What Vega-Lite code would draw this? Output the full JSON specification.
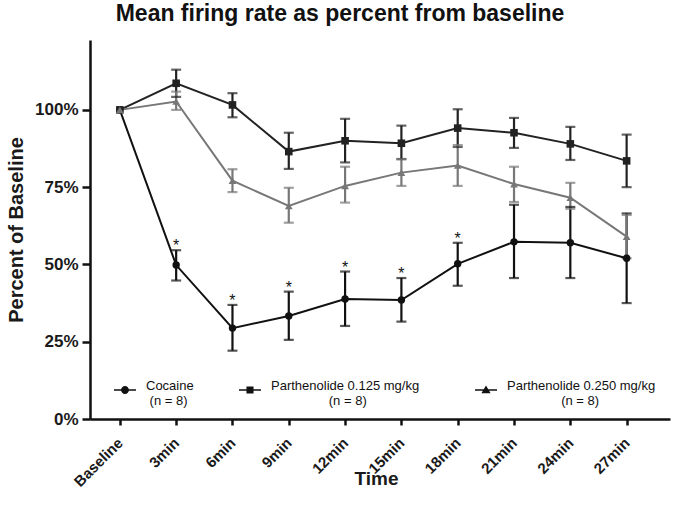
{
  "$schema": "https://vega.github.io/schema/vega-lite/v6.json",
  "width": 580,
  "height": 379,
  "autosize": "none",
  "padding": {"left": 90, "top": 40, "right": 6, "bottom": 99},
  "background": "white",
  "config": {
    "view": {"stroke": null},
    "font": "Liberation Sans",
    "axis": {"grid": false, "domainColor": "#111", "tickColor": "#111", "domainWidth": 2.5, "tickWidth": 2.5, "labelColor": "#1a1a1a", "titleColor": "#1a1a1a", "labelFont": "Liberation Sans", "titleFont": "Liberation Sans", "labelFontWeight": "bold", "titleFontWeight": "bold"}
  },
  "title": {"text": "Mean firing rate as percent from baseline", "font": "Liberation Sans", "fontSize": 23, "fontWeight": "bold", "color": "#111", "anchor": "middle", "dx": -40, "offset": 14},
  "data": {"values": [
    {"series": "Cocaine", "t": 0, "value": 100, "lo": null, "hi": null, "sig": ""},
    {"series": "Cocaine", "t": 1, "value": 49.8, "lo": 44.8, "hi": 54.6, "sig": "*"},
    {"series": "Cocaine", "t": 2, "value": 29.4, "lo": 22.1, "hi": 36.9, "sig": "*"},
    {"series": "Cocaine", "t": 3, "value": 33.3, "lo": 25.6, "hi": 41.2, "sig": "*"},
    {"series": "Cocaine", "t": 4, "value": 38.8, "lo": 30.1, "hi": 47.7, "sig": "*"},
    {"series": "Cocaine", "t": 5, "value": 38.5, "lo": 31.5, "hi": 45.6, "sig": "*"},
    {"series": "Cocaine", "t": 6, "value": 50.2, "lo": 43.1, "hi": 57.0, "sig": "*"},
    {"series": "Cocaine", "t": 7, "value": 57.3, "lo": 45.6, "hi": 69.3, "sig": ""},
    {"series": "Cocaine", "t": 8, "value": 57.0, "lo": 45.6, "hi": 68.6, "sig": ""},
    {"series": "Cocaine", "t": 9, "value": 52.0, "lo": 37.5, "hi": 66.5, "sig": ""},
    {"series": "Parthenolide 0.125 mg/kg", "t": 0, "value": 100, "lo": null, "hi": null, "sig": ""},
    {"series": "Parthenolide 0.125 mg/kg", "t": 1, "value": 108.6, "lo": 104.2, "hi": 113.0, "sig": ""},
    {"series": "Parthenolide 0.125 mg/kg", "t": 2, "value": 101.6, "lo": 97.6, "hi": 105.4, "sig": ""},
    {"series": "Parthenolide 0.125 mg/kg", "t": 3, "value": 86.5, "lo": 80.9, "hi": 92.6, "sig": ""},
    {"series": "Parthenolide 0.125 mg/kg", "t": 4, "value": 90.0, "lo": 83.0, "hi": 97.1, "sig": ""},
    {"series": "Parthenolide 0.125 mg/kg", "t": 5, "value": 89.2, "lo": 84.1, "hi": 94.9, "sig": ""},
    {"series": "Parthenolide 0.125 mg/kg", "t": 6, "value": 94.1, "lo": 88.0, "hi": 100.2, "sig": ""},
    {"series": "Parthenolide 0.125 mg/kg", "t": 7, "value": 92.6, "lo": 87.7, "hi": 97.4, "sig": ""},
    {"series": "Parthenolide 0.125 mg/kg", "t": 8, "value": 89.0, "lo": 83.8, "hi": 94.5, "sig": ""},
    {"series": "Parthenolide 0.125 mg/kg", "t": 9, "value": 83.5, "lo": 75.0, "hi": 92.0, "sig": ""},
    {"series": "Parthenolide 0.250 mg/kg", "t": 0, "value": 100, "lo": null, "hi": null, "sig": ""},
    {"series": "Parthenolide 0.250 mg/kg", "t": 1, "value": 102.7, "lo": 100.0, "hi": 105.9, "sig": ""},
    {"series": "Parthenolide 0.250 mg/kg", "t": 2, "value": 77.1, "lo": 73.4, "hi": 80.8, "sig": ""},
    {"series": "Parthenolide 0.250 mg/kg", "t": 3, "value": 68.9, "lo": 63.5, "hi": 74.8, "sig": ""},
    {"series": "Parthenolide 0.250 mg/kg", "t": 4, "value": 75.4, "lo": 70.0, "hi": 81.6, "sig": ""},
    {"series": "Parthenolide 0.250 mg/kg", "t": 5, "value": 79.7, "lo": 75.4, "hi": 84.0, "sig": ""},
    {"series": "Parthenolide 0.250 mg/kg", "t": 6, "value": 82.0, "lo": 75.4, "hi": 88.6, "sig": ""},
    {"series": "Parthenolide 0.250 mg/kg", "t": 7, "value": 76.0, "lo": 70.2, "hi": 81.6, "sig": ""},
    {"series": "Parthenolide 0.250 mg/kg", "t": 8, "value": 71.6, "lo": 68.0, "hi": 76.4, "sig": ""},
    {"series": "Parthenolide 0.250 mg/kg", "t": 9, "value": 59.0, "lo": 52.0, "hi": 66.0, "sig": ""}
  ]},
  "encoding": {
    "x": {"field": "t", "type": "quantitative", "scale": {"domain": [-0.53, 9.77], "nice": false, "zero": false},
      "axis": {"values": [0,1,2,3,4,5,6,7,8,9], "title": "Time", "titleFontSize": 19, "titleY": 65, "titleX": 286, "titleBaseline": "alphabetic", "labelFontSize": 15, "labelAngle": -45, "labelAlign": "right", "labelBaseline": "middle", "labelPadding": 15, "tickSize": 6,
        "labelExpr": "['Baseline','3min','6min','9min','12min','15min','18min','21min','24min','27min'][datum.value]"}},
    "y": {"field": "value", "type": "quantitative", "scale": {"domain": [0, 122.6], "nice": false},
      "axis": {"values": [0, 25, 50, 75, 100], "title": "Percent of Baseline", "titleFontSize": 20, "titlePadding": 8, "labelFontSize": 17, "labelPadding": 4, "tickSize": 8, "labelExpr": "datum.value + '%'"}}
  },
  "layer": [
    {"data": {"values": [{}]},
      "mark": {"type": "rule", "strokeDash": [4, 3], "strokeWidth": 2.5, "color": "#111"},
      "encoding": {"x": {"datum": -0.53}, "x2": {"datum": 9.77}, "y": {"datum": 100}}},
    {"mark": {"type": "rule", "strokeWidth": 2.2},
      "encoding": {"y": {"field": "lo"}, "y2": {"field": "hi"},
        "color": {"field": "series", "type": "nominal", "scale": {"domain": ["Cocaine", "Parthenolide 0.125 mg/kg", "Parthenolide 0.250 mg/kg"], "range": ["#111111", "#222222", "#777777"]}, "legend": null}}},
    {"mark": {"type": "tick", "orient": "horizontal", "size": 10, "thickness": 2.2},
      "encoding": {"y": {"field": "lo"}, "color": {"field": "series", "type": "nominal", "legend": null}}},
    {"mark": {"type": "tick", "orient": "horizontal", "size": 10, "thickness": 2.2},
      "encoding": {"y": {"field": "hi"}, "color": {"field": "series", "type": "nominal", "legend": null}}},
    {"mark": {"type": "line", "strokeWidth": 2},
      "encoding": {"color": {"field": "series", "type": "nominal", "legend": null}, "detail": {"field": "series"}, "order": {"field": "t"}}},
    {"mark": {"type": "point", "filled": true, "opacity": 1},
      "encoding": {
        "color": {"field": "series", "type": "nominal", "legend": null},
        "shape": {"field": "series", "type": "nominal", "scale": {"domain": ["Cocaine", "Parthenolide 0.125 mg/kg", "Parthenolide 0.250 mg/kg"], "range": ["circle", "square", "triangle-up"]}, "legend": null},
        "size": {"field": "series", "type": "nominal", "scale": {"domain": ["Cocaine", "Parthenolide 0.125 mg/kg", "Parthenolide 0.250 mg/kg"], "range": [55, 60, 50]}, "legend": null}}},
    {"transform": [{"filter": "datum.sig == '*'"}],
      "mark": {"type": "text", "fontSize": 16, "font": "Liberation Sans", "baseline": "alphabetic", "align": "center", "color": "#111", "dy": 1},
      "encoding": {"y": {"field": "hi"}, "text": {"field": "sig"}}},
    {"data": {"values": [{}]},
      "mark": {"type": "text", "fontSize": 11, "font": "Liberation Sans", "baseline": "alphabetic", "align": "left", "color": "#333"},
      "encoding": {"x": {"datum": -0.165}, "y": {"datum": 116.8}, "text": {"value": "i.v. Parth/Cocaine"}}},
    {"data": {"values": [{}]},
      "mark": {"type": "rule", "strokeWidth": 2, "color": "#111"},
      "encoding": {"x": {"datum": 0.165}, "x2": {"datum": 0.918}, "y": {"datum": 115.6}}},
    {"transform": [{"filter": "datum.t == 0"}],
      "mark": {"type": "point", "opacity": 0, "filled": true, "color": "#111"},
      "encoding": {
        "shape": {"field": "series", "type": "nominal",
          "scale": {"domain": ["Cocaine", "Parthenolide 0.125 mg/kg", "Parthenolide 0.250 mg/kg"],
            "range": ["M-1,-0.07H1V0.07H-1ZM-0.36,0A0.36,0.36 0 1,1 0.36,0A0.36,0.36 0 1,1 -0.36,0Z", "M-1,-0.07H1V0.07H-1ZM-0.32,-0.32H0.32V0.32H-0.32Z", "M-1,-0.07H1V0.07H-1ZM0,-0.42L0.42,0.3H-0.42Z"]},
          "legend": {"orient": "none", "legendX": 24, "legendY": 339, "direction": "horizontal", "columns": 3, "title": null, "padding": 0,
            "labelFont": "Liberation Sans", "labelFontSize": 13, "labelColor": "#111", "labelLimit": 300, "labelOffset": 10, "columnPadding": 45,
            "symbolSize": 484, "symbolStrokeWidth": 0, "symbolFillColor": "#111", "symbolStrokeColor": "#111", "symbolOpacity": 1,
            "labelBaseline": "alphabetic",
            "labelExpr": "datum.label == 'Cocaine' ? ['Cocaine', '\u200b\u00a0(n = 8)'] : datum.label == 'Parthenolide 0.125 mg/kg' ? [datum.label + '\u00a0\u00a0\u00a0\u200b', '\u200b\u00a0\u00a0\u00a0\u00a0\u00a0\u00a0\u00a0\u00a0\u00a0\u00a0\u00a0\u00a0\u00a0\u00a0\u00a0\u00a0(n = 8)'] : [datum.label, '\u200b\u00a0\u00a0\u00a0\u00a0\u00a0\u00a0\u00a0\u00a0\u00a0\u00a0\u00a0\u00a0\u00a0\u00a0\u00a0(n = 8)']",
            "encode": {"labels": {"dy": {"value": 4.5}, "lineHeight": {"value": 18}},
                       "symbols": {"fill": {"value": "#111"}, "opacity": {"value": 1}}}}}}}
  ],
  "resolve": {"scale": {"shape": "independent", "size": "independent"}, "legend": {"shape": "independent"}}
}
